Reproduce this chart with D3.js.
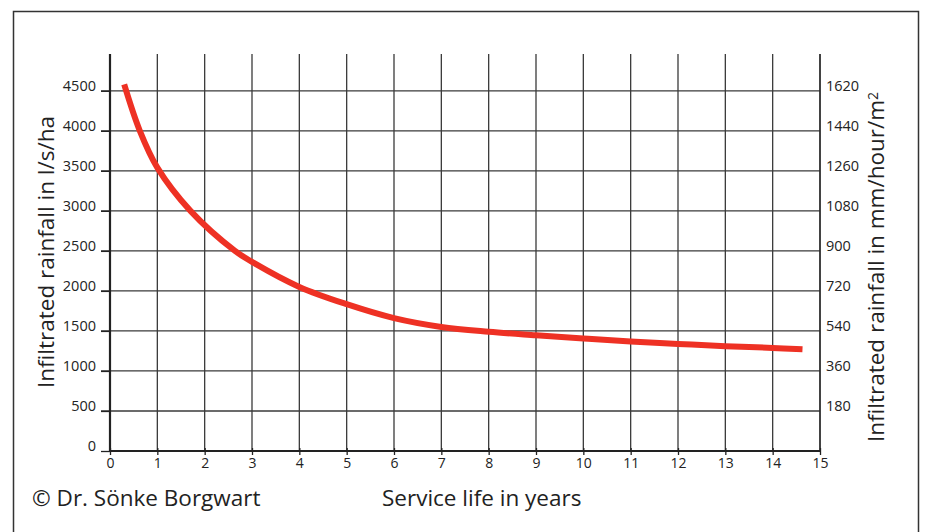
<!DOCTYPE html>
<html>
<head>
<meta charset="utf-8">
<script src="https://cdn.jsdelivr.net/npm/d3@7"></script>
<style>
  body { margin: 0; background: #fff; }
  text { font-family: "Open Sans", "Noto Sans", sans-serif; fill: #222; }
</style>
</head>
<body>
<div id="chart"></div>
<script>
// service life (years) vs infiltrated rainfall (l/s/ha)
var years = [0.3, 0.63, 1.0, 1.7, 2.64, 3, 4, 5, 6, 7, 8, 9, 10, 11, 12, 13, 14, 14.63];
var rainfall = [4580, 4000, 3540, 3000, 2500, 2363, 2050, 1834, 1660, 1550, 1490, 1446, 1405, 1367, 1338, 1309, 1288, 1271];

var xTicks = d3.range(0, 16);
var leftTicks = [0, 500, 1000, 1500, 2000, 2500, 3000, 3500, 4000, 4500];
var rightTicks = [180, 360, 540, 720, 900, 1080, 1260, 1440, 1620];

var W = 925, H = 532;
var margin = { top: 54, left: 110, right: 105, bottom: 81 };
var width = W - margin.left - margin.right,
    height = H - margin.top - margin.bottom;

var svg = d3.select("#chart").append("svg")
    .attr("width", W)
    .attr("height", H);

// frame (bottom edge runs off the picture)
svg.append("path")
    .attr("d", "M13.5,540V11.5H918.5V540")
    .attr("fill", "none")
    .attr("stroke", "#333")
    .attr("stroke-width", 1.5);

var g = svg.append("g")
    .attr("transform", "translate(" + margin.left + "," + margin.top + ")");

var x = d3.scaleLinear().domain([0, 15]).range([0, width]);
var y = d3.scaleLinear().domain([0, 4960]).range([height, 0]);
// mm/hour/m2 = l/s/ha * 0.36
var y2 = d3.scaleLinear().domain([0, 4960 * 0.36]).range([height, 0]);

// grid
g.selectAll(".vgrid")
    .data(xTicks.slice(1))
    .enter().append("line")
    .attr("class", "vgrid")
    .attr("x1", function (d) { return x(d); })
    .attr("x2", function (d) { return x(d); })
    .attr("y1", 0)
    .attr("y2", height)
    .attr("stroke", "#3a3a3a")
    .attr("stroke-width", 1.3);

g.selectAll(".hgrid")
    .data(leftTicks.slice(1))
    .enter().append("line")
    .attr("class", "hgrid")
    .attr("x1", -9)
    .attr("x2", width)
    .attr("y1", function (d) { return y(d); })
    .attr("y2", function (d) { return y(d); })
    .attr("stroke", "#3a3a3a")
    .attr("stroke-width", 1.3);

// bottom axis
var xAxis = g.append("g")
    .attr("transform", "translate(0," + height + ")")
    .call(d3.axisBottom(x).tickValues(xTicks).tickSize(4).tickPadding(3).tickFormat(d3.format("d")));
xAxis.select(".domain").attr("stroke", "#222").attr("stroke-width", 2.2).attr("d", "M0,0H" + width);
xAxis.selectAll(".tick line").attr("stroke", "#222").attr("stroke-width", 1.3).attr("y1", -3);
xAxis.selectAll("text").style("font-size", "14px");

// left axis
var yAxis = g.append("g")
    .call(d3.axisLeft(y).tickValues(leftTicks).tickSize(9).tickPadding(5).tickFormat(d3.format("d")));
yAxis.select(".domain").attr("stroke", "#222").attr("stroke-width", 2.2).attr("d", "M0," + height + "V0");
yAxis.selectAll(".tick line").attr("stroke", "#222").attr("stroke-width", 1.3);
yAxis.selectAll("text").style("font-size", "14.5px").attr("dy", "-0.05em");

// right axis (labels only)
var y2Axis = g.append("g")
    .attr("transform", "translate(" + width + ",0)")
    .call(d3.axisRight(y2).tickValues(rightTicks).tickSize(0).tickPadding(6).tickFormat(d3.format("d")));
y2Axis.select(".domain").attr("stroke", "#222").attr("stroke-width", 1.3).attr("d", "M0," + height + "V0");
y2Axis.selectAll("text").style("font-size", "14.5px").attr("dy", "-0.05em");

// curve
var line = d3.line()
    .x(function (d, i) { return x(years[i]); })
    .y(function (d) { return y(d); })
    .curve(d3.curveCatmullRom.alpha(0.5));

g.append("path")
    .datum(rainfall)
    .attr("d", line)
    .attr("fill", "none")
    .attr("stroke", "#ee3124")
    .attr("stroke-width", 6);

// titles
svg.append("text")
    .attr("transform", "translate(54,252) rotate(-90)")
    .attr("text-anchor", "middle")
    .style("font-size", "22.5px")
    .text("Infiltrated rainfall in l/s/ha");

var rt = svg.append("text")
    .attr("transform", "translate(884,267) rotate(-90)")
    .attr("text-anchor", "middle")
    .style("font-size", "22.5px");
rt.append("tspan").text("Infiltrated rainfall in mm/hour/m");
rt.append("tspan").attr("dy", "-0.45em").style("font-size", "14px").text("2");

svg.append("text")
    .attr("x", 382)
    .attr("y", 506)
    .style("font-size", "22.5px")
    .text("Service life in years");

svg.append("text")
    .attr("x", 32)
    .attr("y", 506)
    .style("font-size", "22.5px")
    .text("© Dr. Sönke Borgwart");
</script>
</body>
</html>
